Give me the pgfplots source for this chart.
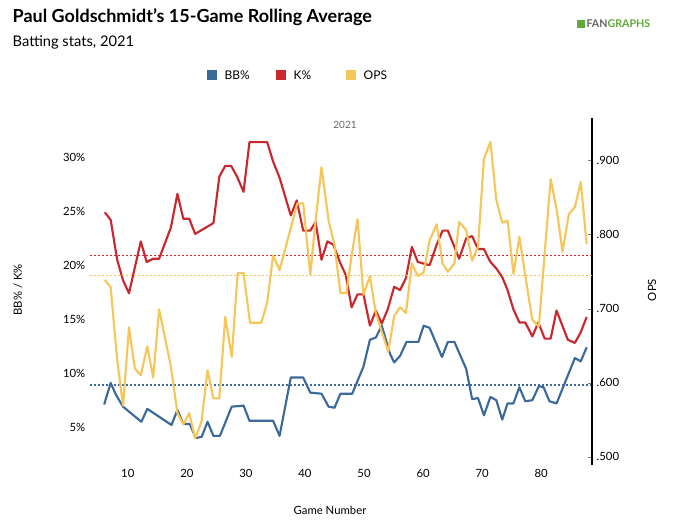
\documentclass[border=0pt]{standalone}
\usepackage{pgfplots}
\pgfplotsset{compat=1.18}
\usepackage{fontspec}
\setmainfont{Lato}
\definecolor{bb}{HTML}{3B6A9A}
\definecolor{kk}{HTML}{C8282E}
\definecolor{ops}{HTML}{F5C65A}
\definecolor{fg}{HTML}{5FA83A}
\pgfplotsset{common/.style={scale only axis,width=376.5pt,height=260pt,
  xmin=3.6,xmax=88.6,clip=false,
  axis x line*=bottom, x axis line style={draw=none},
  /pgf/number format/assume math mode=true,
  tick label style={font=\fontsize{8.5}{10}\selectfont},
  every axis plot/.append style={line width=1.6pt,line join=round}},
  mean/.style={line width=1.1pt,dash pattern=on 1.8pt off 1.2pt}}
\begin{document}
\begin{tikzpicture}
\path (0,0) rectangle (506.25pt,395.25pt);
\begin{scope}[x=0.75pt,y=0.75pt]
\node[anchor=west,font=\bfseries\fontsize{13.5}{15}\selectfont] at (8,510) {Paul Goldschmidt's 15-Game Rolling Average};
\node[anchor=west,font=\fontsize{11}{13}\selectfont] at (8,485) {Batting stats, 2021};
\node[anchor=east,font=\bfseries\fontsize{8}{9}\selectfont] at (655,503) {\textcolor{fg}{\rule{6pt}{6pt}}\,\textcolor{black!60}{FAN}\textcolor{fg}{GRAPHS}};
\fill[bb] (207,447) rectangle (217,457);
\node[anchor=west,font=\fontsize{9}{11}\selectfont] at (220,452) {BB\%};
\fill[kk] (276,447) rectangle (286,457);
\node[anchor=west,font=\fontsize{9}{11}\selectfont] at (289,452) {K\%};
\fill[ops] (346,447) rectangle (356,457);
\node[anchor=west,font=\fontsize{9}{11}\selectfont] at (359,452) {OPS};
\node[font=\fontsize{7.5}{9}\selectfont,text=black!60] at (345,402) {2021};
\node[rotate=90,font=\fontsize{8.5}{10}\selectfont] at (18,237) {BB\% / K\%};
\node[rotate=90,font=\fontsize{8.5}{10}\selectfont] at (652,237) {OPS};
\node[font=\fontsize{8.5}{10}\selectfont] at (330,17) {Game Number};
\end{scope}
\begin{axis}[common,name=A,at={(67.5pt,46.5pt)},anchor=south west,ymin=1.5,ymax=33.6,
  axis y line*=left, y axis line style={draw=none},
  xtick={10,20,...,80},ytick={5,10,...,30},
  yticklabel={\pgfmathprintnumber{\tick}\%},
  major tick length=0pt]
\addplot[bb] coordinates {(6,7.1)(7.1,9.1)(8,8.0)(9.2,6.9)(12.3,5.5)(13.3,6.7)(17.4,5.2)(18.4,6.6)(19.4,5.3)(20.5,5.3)(21.5,4.0)(22.5,4.1)(23.5,5.5)(24.5,4.2)(25.6,4.2)(27.6,6.9)(29.6,7.0)(30.6,5.6)(34.6,5.6)(35.7,4.2)(37.6,9.6)(39.7,9.6)(40.9,8.2)(42.8,8.1)(44,6.9)(45,6.8)(46,8.1)(48,8.1)(49.9,10.6)(51,13.1)(52,13.3)(53,14.4)(54.4,11.8)(55.1,11.0)(56.1,11.6)(57.2,12.9)(59.2,12.9)(60.1,14.4)(61.1,14.2)(63.2,11.5)(64.2,12.9)(65.3,12.9)(67.3,10.4)(68.3,7.6)(69.3,7.7)(70.3,6.1)(71.4,7.8)(72.4,7.5)(73.4,5.7)(74.3,7.2)(75.3,7.2)(76.3,8.7)(77.3,7.4)(78.5,7.5)(79.6,8.8)(80.4,8.7)(81.4,7.4)(82.6,7.2)(85.7,11.4)(86.7,11.1)(87.7,12.4)};
\addplot[kk] coordinates {(6.1,24.9)(7.1,24.2)(8.2,20.5)(9.2,18.6)(10.2,17.4)(11.2,19.8)(12.2,22.2)(13.2,20.3)(14.3,20.6)(15.3,20.6)(17.3,23.5)(18.4,26.6)(19.4,24.3)(20.4,24.3)(21.4,22.9)(24.5,23.9)(25.5,28.2)(26.5,29.2)(27.5,29.2)(28.5,28.2)(29.6,26.8)(30.6,31.4)(33.6,31.4)(34.6,29.6)(35.7,28.1)(37.6,24.6)(38.6,26.0)(39.7,23.2)(40.9,23.2)(41.8,24.0)(42.8,20.5)(43.8,22.2)(44.8,21.9)(45.9,20.3)(46.9,19.1)(47.9,16.1)(48.9,17.3)(49.9,17.3)(51,14.4)(52,15.8)(53,14.6)(54,15.9)(55.1,18.0)(56.1,17.7)(57.1,18.8)(58.1,21.7)(59.1,20.3)(61.1,20.0)(62.3,21.9)(63.3,23.2)(64.2,23.2)(65.3,21.7)(66.1,20.6)(67.3,22.5)(68.3,22.7)(69.3,21.5)(70.3,21.5)(71.4,20.3)(72.4,19.7)(73.4,18.9)(74.3,17.7)(75.3,15.9)(76.3,14.7)(77.3,14.7)(78.5,13.4)(79.5,14.7)(80.6,13.2)(81.6,13.2)(82.6,15.8)(84.5,13.1)(85.7,12.8)(86.7,13.8)(87.7,15.2)};
\addplot[draw=kk,mean] coordinates {(3.6,20.9)(88.6,20.9)};
\addplot[draw=bb,mean] coordinates {(3.6,8.9)(88.6,8.9)};
\end{axis}
\begin{axis}[common,at={(A.south west)},anchor=south west,ymin=0.489,ymax=0.957,
  axis y line*=right,
  y axis line style={line width=1.4pt,-},
  xtick=\empty,
  ytick={0.5,0.6,...,0.9},
  yticklabel={\pgfmathparse{int(round(\tick*1000))}.\pgfmathresult},
  major tick length=3pt, ytick style={black!50}]
\addplot[ops] coordinates {(6.1,0.739)(7.1,0.729)(8.2,0.631)(9.2,0.569)(10.2,0.675)(11.2,0.619)(12.2,0.610)(13.3,0.649)(14.3,0.607)(15.3,0.699)(17.3,0.622)(18.4,0.559)(19.4,0.544)(20.4,0.559)(21.4,0.525)(22.5,0.548)(23.5,0.617)(24.5,0.579)(25.5,0.579)(26.5,0.689)(27.6,0.635)(28.6,0.748)(29.6,0.748)(30.7,0.681)(32.6,0.681)(33.6,0.708)(34.6,0.772)(35.7,0.752)(38.7,0.842)(39.7,0.842)(40.9,0.746)(41.8,0.819)(42.8,0.891)(44,0.819)(45,0.786)(46,0.721)(47,0.721)(47.9,0.772)(48.9,0.821)(49.9,0.719)(51,0.744)(52,0.694)(53,0.669)(54.1,0.642)(55.1,0.690)(56.1,0.702)(57.1,0.694)(58.1,0.761)(59.1,0.744)(60.1,0.749)(61.1,0.792)(62.3,0.814)(63.3,0.761)(64.2,0.750)(65.3,0.761)(66.1,0.817)(67.3,0.806)(68.3,0.765)(69.3,0.783)(70.3,0.902)(71.4,0.925)(72.4,0.847)(73.4,0.816)(74.3,0.819)(75.3,0.747)(76.3,0.797)(77.3,0.745)(78.5,0.685)(79.6,0.676)(81.6,0.875)(82.6,0.835)(83.6,0.777)(84.7,0.828)(85.7,0.837)(86.7,0.871)(87.7,0.787)};
\addplot[draw=ops,mean] coordinates {(3.6,0.745)(88.6,0.745)};
\end{axis}
\end{tikzpicture}
\end{document}
